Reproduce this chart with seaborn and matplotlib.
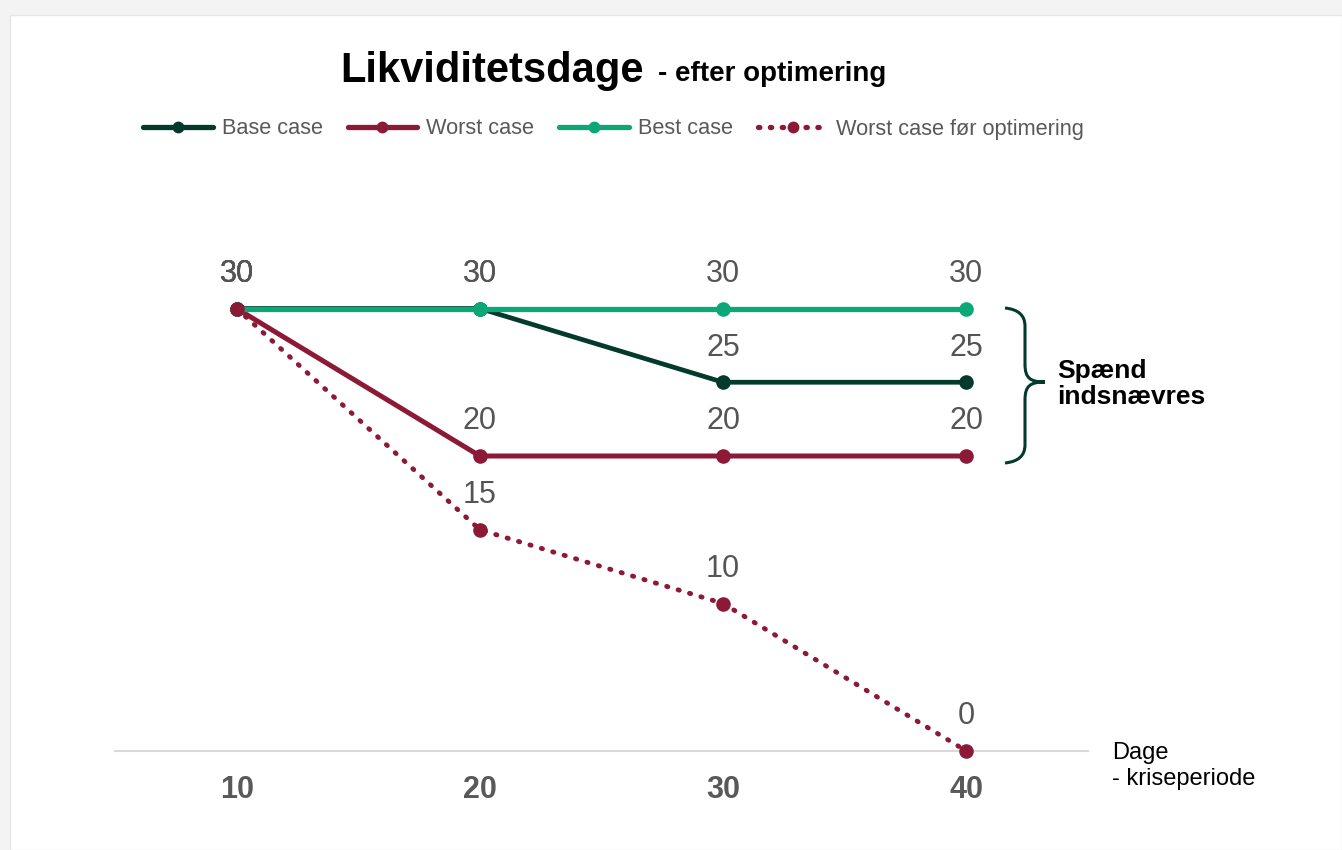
import matplotlib
matplotlib.use("Agg")
import matplotlib.pyplot as plt
import seaborn as sns
import numpy as np
import pandas as pd
from matplotlib.patches import Rectangle, PathPatch
from matplotlib.path import Path
from matplotlib.lines import Line2D

# ---- data ----
categories = ["10", "20", "30", "40"]
base_case = [30, 30, 25, 25]
worst_case = [30, 20, 20, 20]
best_case = [30, 30, 30, 30]
worst_before = [30, 15, 10, 0]
series_names = ["Base case", "Worst case", "Best case", "Worst case før optimering"]

sns.set_theme(style="white")
plt.rcParams["font.family"] = ["Liberation Sans", "DejaVu Sans"]

W, H = 1342, 850
fig = plt.figure(figsize=(W / 100, H / 100), dpi=100)
fig.patch.set_facecolor("#f3f3f3")
card = Rectangle((10 / W, 0), 1 - 10 / W, 1 - 15 / H, transform=fig.transFigure,
                 facecolor="white", edgecolor="#e6e6e6", lw=1, zorder=-10)
fig.patches.append(card)

ax = fig.add_axes([115 / W, 1 - 751 / H, (1088 - 115) / W, (751 - 160) / H])
ax.patch.set_alpha(0)
ax.set_zorder(5)

x = np.arange(len(categories))
colors = {"Base case": "#033a2c", "Worst case": "#8c1a36", "Best case": "#0aa876",
          "Worst case før optimering": "#8c1a36"}
values = {"Base case": base_case, "Worst case": worst_case, "Best case": best_case,
          "Worst case før optimering": worst_before}
widths = {"Base case": 3.4, "Worst case": 3.6, "Best case": 3.8, "Worst case før optimering": 3.5}

for i, name in enumerate(series_names):
    df = pd.DataFrame({"x": x, "y": values[name]})
    dotted = name == "Worst case før optimering"
    sns.lineplot(data=df, x="x", y="y", ax=ax, color=colors[name], lw=widths[name],
                 marker="o", markersize=10.5, markeredgewidth=0, zorder=3 + i, clip_on=False,
                 linestyle=(0, (0.25, 2.2)) if dotted else "-",
                 dash_capstyle="round", solid_capstyle="butt")
    for xi, yi in zip(x, values[name]):
        ax.annotate(f"{yi}", (xi, yi), xytext=(0, 25), textcoords="offset points",
                    ha="center", va="center", fontsize=22, color="#555555", zorder=10)

ax.set_xlim(-0.5, 3.5)
ax.set_ylim(0, (751 - 160) / 14.75)
ax.set_xticks(x)
ax.set_xticklabels(categories, fontsize=22, fontweight="bold", color="#595959")
ax.tick_params(axis="x", length=0, pad=17)
ax.set_yticks([])
ax.set_xlabel("")
ax.set_ylabel("")
for s in ["top", "right", "left"]:
    ax.spines[s].set_visible(False)
ax.spines["bottom"].set_color("#d9d9d9")
ax.spines["bottom"].set_linewidth(1.5)

# brace
def fx(px):
    return px / W
def fy(py):
    return 1 - py / H
x0, x1, xm = 1005, 1025, 1045
ytop, ymid, ybot = 308, 382, 463
verts = [(x0, ytop), (x1, ytop + 2), (x1, ytop + 18),
         (x1, ymid - 18),
         (x1, ymid - 4), (1030, ymid), (xm, ymid),
         (1030, ymid), (x1, ymid + 4), (x1, ymid + 18),
         (x1, ybot - 18),
         (x1, ybot - 2), (x0, ybot)]
codes = [Path.MOVETO, Path.CURVE3, Path.CURVE3,
         Path.LINETO,
         Path.CURVE4, Path.CURVE4, Path.CURVE4,
         Path.CURVE4, Path.CURVE4, Path.CURVE4,
         Path.LINETO,
         Path.CURVE3, Path.CURVE3]
fverts = [(fx(a), fy(b)) for a, b in verts]
fig.patches.append(PathPatch(Path(fverts, codes), transform=fig.transFigure, facecolor="none",
                             edgecolor="#033a2c", lw=2.2, zorder=2))
fig.text(fx(1057), fy(384), "Spænd\nindsnævres", fontsize=19, fontweight="bold",
         color="black", ha="left", va="center", linespacing=1.1)

fig.text(fx(1112), fy(766), "Dage\n- kriseperiode", fontsize=17, color="black",
         ha="left", va="center", linespacing=1.2)

# title
t1 = fig.text(fx(340), fy(71), "Likviditetsdage", fontsize=30, fontweight="bold",
              color="black", ha="left", va="center")
fig.canvas.draw()
bb = t1.get_window_extent()
fig.text(bb.x1 / W + 14 / W, fy(74), "- efter optimering", fontsize=20, fontweight="bold",
         color="black", ha="left", va="center")

# legend
handles = []
for name in series_names:
    dotted = name == "Worst case før optimering"
    handles.append(Line2D([0], [0], color=colors[name], lw=3.8,
                          linestyle=(0, (0.25, 2.0)) if dotted else "-",
                          dash_capstyle="round", marker="o", markersize=8.5,
                          markeredgewidth=0))
fig.legend(handles, series_names, loc="center left", bbox_to_anchor=(fx(143), fy(129)),
           ncol=4, frameon=False, fontsize=15.7, handlelength=3.2, handletextpad=0.4,
           columnspacing=1.15, labelcolor="#595959", borderaxespad=0, borderpad=0)

fig.savefig("out.png", dpi=100, facecolor=fig.get_facecolor())
